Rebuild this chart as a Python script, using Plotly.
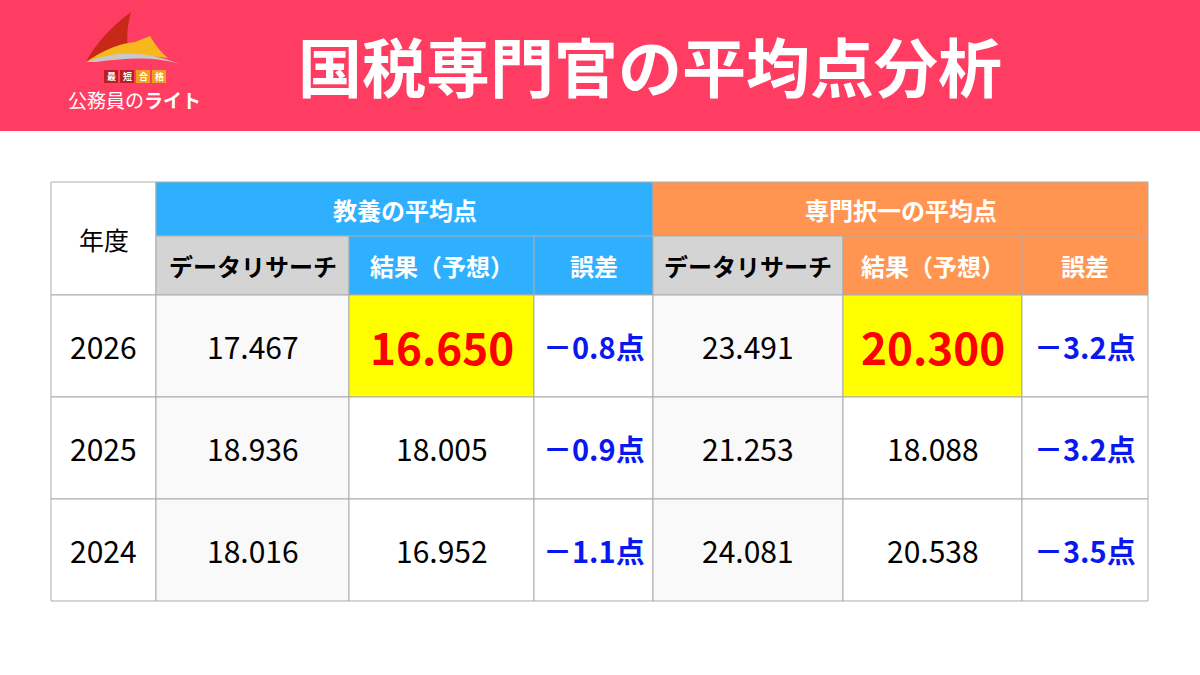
import plotly.graph_objects as go

title = "国税専門官の平均点分析"
groups = ["教養の平均点", "専門択一の平均点"]
subheads = ["データリサーチ", "結果（予想）", "誤差"]
years = ["2026", "2025", "2024"]
kyoyo_dr = ["17.467", "18.936", "18.016"]
kyoyo_res = ["16.650", "18.005", "16.952"]
kyoyo_err = ["－0.8点", "－0.9点", "－1.1点"]
senmon_dr = ["23.491", "21.253", "24.081"]
senmon_res = ["20.300", "18.088", "20.538"]
senmon_err = ["－3.2点", "－3.2点", "－3.5点"]

FONT = "Noto Sans CJK JP"
xs = [51, 156, 349, 534, 653, 843, 1022, 1148]
ys = [182, 236, 295, 397, 499, 601]
BORDER = "#ABABAB"
BLUE = "#2EB0FF"
ORANGE = "#FF9550"
GRAY = "#D4D4D4"
LIGHT = "#F9F9F9"
YEL = "#FFFF00"

fig = go.Figure()
shapes, ann = [], []

def rect(x0, y0, x1, y1, fill, line=BORDER, w=1):
    shapes.append(dict(type="rect", xref="x", yref="y", x0=x0, y0=y0, x1=x1, y1=y1,
                       fillcolor=fill, line=dict(color=line, width=w), layer="below"))

def text(x, y, t, size, color="black", bold=False):
    ann.append(dict(x=x, y=y, xref="x", yref="y", text=f"<b>{t}</b>" if bold else t,
                    showarrow=False, font=dict(family=FONT, size=size, color=color),
                    xanchor="center", yanchor="middle"))

# header band
shapes.append(dict(type="rect", xref="x", yref="y", x0=0, y0=0, x1=1200, y1=131,
                   fillcolor="#FF3D63", line=dict(width=0), layer="below"))
text(650, 64, title, 64, "white", True)

# logo
shapes.append(dict(type="path", xref="x", yref="y", path="M86,62 Q100,35 131,12 Q124,38 130,56 Q105,55 86,62 Z",
                   fillcolor="#C8281A", line=dict(width=0)))
shapes.append(dict(type="path", xref="x", yref="y", path="M86,62 Q112,44 135,42 L150,36 Q158,50 168,58 Q125,52 86,62 Z",
                   fillcolor="#F6B81C", line=dict(width=0)))
shapes.append(dict(type="path", xref="x", yref="y", path="M86,62 Q130,44 180,64 Q150,54 96,62 Z",
                   fillcolor="#C8C8C8", line=dict(width=0)))
for i, (ch, col) in enumerate(zip("最短合格", ["#B82020", "#B82020", "#F0A020", "#F0A020"])):
    cx = 111 + i * 16
    shapes.append(dict(type="rect", xref="x", yref="y", x0=cx - 7, y0=70, x1=cx + 7, y1=83,
                       fillcolor=col, line=dict(width=0)))
    text(cx, 76.5, ch, 9, "white", True)
text(134, 99, "公務員の<b>ライト</b>", 19, "white")

# table
cols_blue = [BLUE, ORANGE]
rect(xs[0], ys[0], xs[1], ys[2], "white")
text((xs[0] + xs[1]) / 2, (ys[0] + ys[2]) / 2, "年度", 25)
for g in range(2):
    c0 = 1 + g * 3
    rect(xs[c0], ys[0], xs[c0 + 3], ys[1], cols_blue[g])
    text((xs[c0] + xs[c0 + 3]) / 2, (ys[0] + ys[1]) / 2, groups[g], 24, "white", True)
    for k in range(3):
        fill = GRAY if k == 0 else cols_blue[g]
        col = "black" if k == 0 else "white"
        rect(xs[c0 + k], ys[1], xs[c0 + k + 1], ys[2], fill)
        text((xs[c0 + k] + xs[c0 + k + 1]) / 2, (ys[1] + ys[2]) / 2, subheads[k], 24, col, True)

cols = [kyoyo_dr, kyoyo_res, kyoyo_err, senmon_dr, senmon_res, senmon_err]
for r in range(3):
    y0, y1 = ys[2 + r], ys[3 + r]
    cy = (y0 + y1) / 2
    rect(xs[0], y0, xs[1], y1, "white")
    text((xs[0] + xs[1]) / 2, cy, years[r], 30)
    for c in range(6):
        x0, x1 = xs[1 + c], xs[2 + c]
        cx = (x0 + x1) / 2
        kind = c % 3
        if kind == 0:
            rect(x0, y0, x1, y1, LIGHT)
            text(cx, cy, cols[c][r], 30)
        elif kind == 1:
            if r == 0:
                rect(x0, y0, x1, y1, YEL)
                text(cx, cy, cols[c][r], 44, "#FF0000", True)
            else:
                rect(x0, y0, x1, y1, "white")
                text(cx, cy, cols[c][r], 30)
        else:
            rect(x0, y0, x1, y1, "white")
            text(cx, cy, cols[c][r], 29, "#0A18F0", True)

fig.update_layout(width=1200, height=675, margin=dict(l=0, r=0, t=0, b=0),
                  paper_bgcolor="white", plot_bgcolor="white",
                  shapes=shapes, annotations=ann, showlegend=False,
                  xaxis=dict(range=[0, 1200], visible=False, fixedrange=True),
                  yaxis=dict(range=[675, 0], visible=False, fixedrange=True))
fig.write_html("out.html", config={"displayModeBar": False},
               post_script="document.body.style.margin='0';document.body.style.overflow='hidden';")
